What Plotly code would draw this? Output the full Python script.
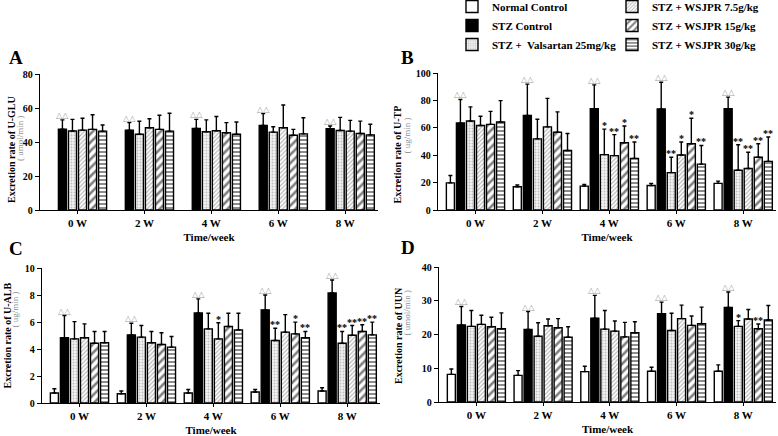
import plotly.graph_objects as go

weeks = ["0 W", "2 W", "4 W", "6 W", "8 W"]
groups = ["Normal Control", "STZ Control", "STZ +  Valsartan 25mg/kg",
          "STZ + WSJPR 7.5g/kg", "STZ + WSJPR 15g/kg", "STZ + WSJPR 30g/kg"]

# Panel A: U-GLU (umol/min); Normal Control not plotted
glu_mean = [[None] * 5,
            [47.5, 47.0, 48.0, 49.8, 47.8],
            [46.5, 44.6, 46.0, 45.8, 46.8],
            [47.0, 48.4, 46.6, 48.4, 46.4],
            [47.4, 47.4, 45.4, 44.0, 45.0],
            [46.4, 46.4, 44.6, 44.8, 44.2]]
glu_sd = [[None] * 5,
          [5.5, 4.4, 5.3, 6.9, 1.6],
          [6.8, 7.6, 7.0, 3.2, 7.7],
          [7.0, 5.3, 8.4, 13.4, 6.3],
          [8.6, 8.3, 6.0, 3.4, 7.3],
          [3.6, 10.5, 7.2, 9.5, 6.2]]
glu_sig = []

# Panel B: U-TP (ug/min)
tp_mean = [[19.8, 17.0, 17.4, 17.9, 19.4],
           [63.5, 69.1, 74.0, 73.7, 74.0],
           [65.0, 51.9, 40.4, 27.3, 29.0],
           [61.7, 60.7, 39.7, 40.2, 30.3],
           [62.5, 56.8, 49.1, 48.4, 38.5],
           [64.2, 43.4, 37.7, 33.5, 35.5]]
tp_sd = [[5.4, 1.3, 1.2, 1.5, 1.7],
         [17.2, 22.8, 17.3, 19.5, 8.4],
         [10.3, 14.3, 18.6, 11.2, 18.6],
         [6.7, 20.8, 15.3, 9.4, 11.9],
         [9.5, 14.8, 12.2, 18.6, 9.9],
         [15.6, 12.4, 11.9, 13.6, 17.8]]
tp_sig = [(2, 2, "*"), (3, 2, "**"), (4, 2, "*"), (5, 2, "**"),
          (2, 3, "**"), (3, 3, "*"), (4, 3, "*"), (5, 3, "**"),
          (2, 4, "**"), (3, 4, "**"), (4, 4, "**"), (5, 4, "**")]

# Panel C: U-ALB (ug/min)
alb_mean = [[0.74, 0.69, 0.74, 0.81, 0.89],
            [4.83, 5.05, 6.67, 6.90, 8.15],
            [4.75, 4.88, 5.49, 4.63, 4.43],
            [4.83, 4.46, 4.75, 5.25, 5.02],
            [4.43, 4.33, 5.67, 5.12, 5.30],
            [4.46, 4.14, 5.42, 4.83, 5.05]]
alb_sd = [[0.32, 0.20, 0.26, 0.19, 0.24],
          [1.65, 0.86, 1.04, 1.10, 0.96],
          [1.28, 0.86, 1.16, 0.91, 0.87],
          [1.03, 0.84, 1.19, 1.30, 0.72],
          [0.87, 0.87, 0.98, 0.87, 0.50],
          [0.84, 0.79, 1.23, 0.47, 0.94]]
alb_sig = [(3, 2, "*"),
           (2, 3, "**"), (4, 3, "*"), (5, 3, "**"),
           (2, 4, "**"), (3, 4, "**"), (4, 4, "**"), (5, 4, "**")]

# Panel D: UUN (umol/min)
uun_mean = [[8.2, 7.9, 9.0, 9.1, 9.1],
            [22.8, 21.5, 24.8, 26.2, 28.0],
            [22.4, 19.5, 21.6, 21.2, 22.4],
            [23.0, 22.6, 21.0, 24.7, 24.6],
            [22.3, 22.0, 19.3, 22.7, 21.7],
            [21.7, 19.2, 20.5, 23.2, 24.3]]
uun_sd = [[1.6, 1.4, 1.6, 1.2, 1.9],
          [5.5, 5.3, 6.8, 3.4, 4.6],
          [4.7, 4.0, 5.5, 5.1, 1.7],
          [2.7, 2.0, 3.0, 4.0, 2.8],
          [2.8, 2.7, 4.3, 2.8, 1.4],
          [4.7, 3.1, 3.3, 4.9, 4.3]]
uun_sig = [(2, 4, "*"), (4, 4, "**")]

W, H = 778, 436
SERIF = "Liberation Serif"

styles = [
    dict(color="white"),
    dict(color="black"),
    dict(color="white", pattern=dict(shape=".", fgcolor="#8c8c8c", bgcolor="#f2f2f2", size=3, solidity=0.3)),
    dict(color="white", pattern=dict(shape="/", fgcolor="#707070", bgcolor="white", size=3, solidity=0.4)),
    dict(color="white", pattern=dict(shape="/", fgcolor="black", bgcolor="white", size=6, solidity=0.42)),
    dict(color="white", pattern=dict(shape="-", fgcolor="black", bgcolor="white", size=4, solidity=0.45)),
]

panels = [
    dict(mean=glu_mean, sd=glu_sd, sig=glu_sig, yr=[0, 80], dt=20,
         t1="Excretion rate of U-GLU", t2="( umol/min )",
         xd=(40, 378), yd=(74, 210), letter="A", lx=7, ly=57,
         tx1=11, ty1=150, tx2=20, ty2=138),
    dict(mean=tp_mean, sd=tp_sd, sig=tp_sig, yr=[0, 100], dt=20,
         t1="Excretion rate of U-TP", t2="( ug/min )",
         xd=(438, 776), yd=(73, 210), letter="B", lx=399, ly=57,
         tx1=397.5, ty1=155, tx2=406.5, ty2=136),
    dict(mean=alb_mean, sd=alb_sd, sig=alb_sig, yr=[0, 10], dt=2,
         t1="Excretion rate of U-ALB", t2="( ug/min )",
         xd=(42, 380), yd=(268, 403), letter="C", lx=7, ly=249,
         tx1=6.5, ty1=336, tx2=14.5, ty2=310),
    dict(mean=uun_mean, sd=uun_sd, sig=uun_sig, yr=[0, 40], dt=10,
         t1="Excretion rate of UUN", t2="( umol/min )",
         xd=(439, 776), yd=(267, 402), letter="D", lx=399, ly=247,
         tx1=398, ty1=335, tx2=406.5, ty2=313),
]

fig = go.Figure()
annotations = []
layout = {}

n = len(groups)
def offset(i):
    return -0.45 + 0.9 / n * (i + 0.5)

for p_i, p in enumerate(panels):
    sfx = "" if p_i == 0 else str(p_i + 1)
    xa, ya = "x" + sfx, "y" + sfx
    for g in range(n):
        st = styles[g]
        marker = dict(color=st["color"], line=dict(color="black", width=1.4))
        if "pattern" in st:
            marker["pattern"] = st["pattern"]
        sd = p["sd"][g]
        fig.add_trace(go.Bar(
            x=weeks, y=p["mean"][g], name=groups[g], marker=marker,
            error_y=dict(type="data", symmetric=False, array=sd,
                         arrayminus=[0] * len(weeks), color="black",
                         thickness=1.4, width=2),
            xaxis=xa, yaxis=ya,
            showlegend=(p_i == 1),
            legend="legend" if g < 3 else "legend2",
        ))
    # triangles over STZ Control
    for w in range(len(weeks)):
        top = p["mean"][1][w] + p["sd"][1][w]
        annotations.append(dict(x=w + offset(1), y=top, xref=xa, yref=ya, text="△△",
                                showarrow=False, yanchor="bottom", yshift=-2,
                                font=dict(family="DejaVu Sans", size=8, color="#9a9a9a")))
    for (g, w, s) in p["sig"]:
        top = p["mean"][g][w] + p["sd"][g][w]
        annotations.append(dict(x=w + offset(g), y=top, xref=xa, yref=ya, text=s,
                                showarrow=False, yanchor="bottom", yshift=-4,
                                font=dict(family=SERIF, size=10, color="black", weight="bold")))
    annotations.append(dict(x=p["lx"] / W, y=1 - p["ly"] / H, xref="paper", yref="paper",
                            xanchor="left", yanchor="middle", text="<b>" + p["letter"] + "</b>",
                            showarrow=False, font=dict(family=SERIF, size=19, color="black")))
    # y-axis titles (two rotated lines)
    annotations.append(dict(x=p["tx1"] / W, y=1 - p["ty1"] / H, xref="paper", yref="paper",
                            xanchor="center", yanchor="middle", textangle=-90,
                            text="<b>" + p["t1"] + "</b>", showarrow=False,
                            font=dict(family=SERIF, size=10, color="black")))
    annotations.append(dict(x=p["tx2"] / W, y=1 - p["ty2"] / H, xref="paper", yref="paper",
                            xanchor="center", yanchor="middle", textangle=-90,
                            text=p["t2"], showarrow=False,
                            font=dict(family=SERIF, size=9, color="#8f8f8f")))
    layout["xaxis" + sfx] = dict(
        domain=[p["xd"][0] / W, p["xd"][1] / W], anchor=ya, range=[-0.56, 4.49],
        showline=True, linecolor="black", linewidth=1.4, ticks="outside", ticklen=3,
        tickwidth=1.2, tickcolor="black", showgrid=False, zeroline=False,
        tickfont=dict(family=SERIF, size=11, color="black", weight="bold"),
        title=dict(text="Time/week", standoff=4,
                   font=dict(family=SERIF, size=11, color="black", weight="bold")),
        automargin=False,
    )
    layout["yaxis" + sfx] = dict(
        domain=[1 - p["yd"][1] / H, 1 - p["yd"][0] / H], anchor=xa, range=p["yr"],
        dtick=p["dt"], showline=True, linecolor="black", linewidth=1.4,
        ticks="outside", ticklen=4, tickwidth=1.2, tickcolor="black",
        showgrid=False, zeroline=False,
        tickfont=dict(family=SERIF, size=10, color="black", weight="bold"),
        automargin=False,
    )

legend_font = dict(family=SERIF, size=11, color="black", weight="bold")
fig.update_layout(
    width=W, height=H, margin=dict(l=0, r=0, t=0, b=0, autoexpand=False),
    paper_bgcolor="white", plot_bgcolor="white",
    barmode="group", bargap=0.1, bargroupgap=0.2,
    annotations=annotations,
    legend=dict(xref="paper", yref="paper", x=452 / W, y=1 + 8 / H,
                xanchor="left", yanchor="top", bgcolor="rgba(0,0,0,0)",
                font=legend_font, itemwidth=30, tracegroupgap=0),
    legend2=dict(xref="paper", yref="paper", x=612 / W, y=1 + 8 / H,
                 xanchor="left", yanchor="top", bgcolor="rgba(0,0,0,0)",
                 font=legend_font, itemwidth=30, tracegroupgap=0),
    **layout,
)

fig.write_html("out.html", config={"displayModeBar": False},
               post_script="document.body.style.margin='0';")
